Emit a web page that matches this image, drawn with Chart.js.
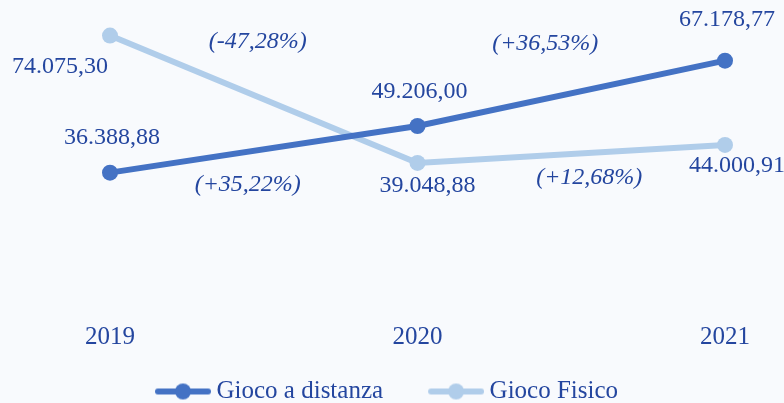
<!DOCTYPE html>
<html>
<head>
<meta charset="utf-8">
<script src="https://cdn.jsdelivr.net/npm/chart.js@4/dist/chart.umd.min.js"></script>
<style>
  html, body { margin: 0; padding: 0; background: #F8FAFD; }
  #wrap { width: 784px; height: 403px; position: relative; }
</style>
</head>
<body>
<div id="wrap"><canvas id="chart"></canvas></div>
<script>
const anni = ['2019', '2020', '2021'];
const giocoADistanza = [36388.88, 49206.00, 67178.77];
const giocoFisico = [74075.30, 39048.88, 44000.91];
const variazioniDistanza = ['(+35,22%)', '(+36,53%)'];
const variazioniFisico = ['(-47,28%)', '(+12,68%)'];

const coloreScuro = '#4472C4';
const coloreChiaro = '#B0CDEA';
const coloreTesto = '#24469F';
const serif = '"Liberation Serif", "DejaVu Serif", serif';

// number like 74.075,30
function formatta(v) {
    const parti = v.toFixed(2).split('.');
    const intero = parti[0].replace(/\B(?=(\d{3})+(?!\d))/g, '.');
    return intero + ',' + parti[1];
}

// legend marker: line with a dot, drawn at the right end of a wider image
// (box is 90 wide, image 104 wide so the line ends 7px past the box)
const LARG_BOX = 90;
function marker(colore) {
    const c = document.createElement('canvas');
    c.width = LARG_BOX + 14;
    c.height = 18;
    const ctx = c.getContext('2d');
    const x0 = c.width - 56;
    ctx.strokeStyle = colore;
    ctx.lineWidth = 6;
    ctx.lineCap = 'round';
    ctx.beginPath();
    ctx.moveTo(x0 + 3, 9);
    ctx.lineTo(x0 + 53, 9);
    ctx.stroke();
    ctx.fillStyle = colore;
    ctx.beginPath();
    ctx.arc(x0 + 28, 9, 8, 0, Math.PI * 2);
    ctx.fill();
    return c;
}

// offsets of the value labels and of the % labels (from segment midpoints)
const offsetValori = [
    [[2, -35], [2, -34], [2, -41]],
    [[-50, 31], [10, 23], [12, 21]]
];
const offsetVariazioni = [
    [[-16, 35], [-26, -50]],
    [[-6, -58], [18, 24]]
];

const etichette = {
    id: 'etichette',
    afterDatasetsDraw(chart) {
        const ctx = chart.ctx;
        const variazioni = [variazioniDistanza, variazioniFisico];
        ctx.save();
        ctx.fillStyle = coloreTesto;
        ctx.textAlign = 'center';
        ctx.textBaseline = 'middle';
        chart.data.datasets.forEach((ds, i) => {
            const punti = chart.getDatasetMeta(i).data;
            ctx.font = '24px ' + serif;
            punti.forEach((p, j) => {
                const o = offsetValori[i][j];
                ctx.fillText(formatta(ds.data[j]), p.x + o[0], p.y + o[1]);
            });
            ctx.font = 'italic 24px ' + serif;
            variazioni[i].forEach((testo, j) => {
                const a = punti[j], b = punti[j + 1];
                const o = offsetVariazioni[i][j];
                ctx.fillText(testo, (a.x + b.x) / 2 + o[0], (a.y + b.y) / 2 + o[1]);
            });
        });
        ctx.restore();
    }
};

function serie(label, dati, colore) {
    return {
        label: label,
        data: dati,
        borderColor: colore,
        backgroundColor: colore,
        borderWidth: 6,
        pointStyle: 'circle',
        pointRadius: 8,
        pointHoverRadius: 8,
        pointBackgroundColor: colore,
        pointBorderWidth: 0,
        clip: false
    };
}

new Chart(document.getElementById('chart'), {
    type: 'line',
    data: {
        labels: anni,
        datasets: [
            serie('Gioco a distanza', giocoADistanza, coloreScuro),
            serie('Gioco Fisico', giocoFisico, coloreChiaro)
        ]
    },
    options: {
        responsive: true,
        maintainAspectRatio: false,
        animation: false,
        layout: { padding: { top: 14, left: 110, right: 59, bottom: -11 } },
        scales: {
            x: {
                offset: false,
                grid: { display: false, drawTicks: false },
                border: { display: false },
                ticks: {
                    color: coloreTesto,
                    font: { family: serif, size: 25 },
                    padding: 17
                },
                afterFit(scale) { scale.height = 70; }
            },
            y: {
                display: false,
                min: 0,
                max: 80000
            }
        },
        plugins: {
            tooltip: { enabled: false },
            legend: {
                position: 'bottom',
                align: 'start',
                labels: {
                    usePointStyle: true,
                    pointStyleWidth: LARG_BOX,
                    padding: 4,
                    color: coloreTesto,
                    font: { family: serif, size: 25 },
                    generateLabels(chart) {
                        return chart.data.datasets.map((ds, i) => ({
                            text: ds.label,
                            pointStyle: marker(ds.borderColor),
                            fillStyle: ds.borderColor,
                            strokeStyle: ds.borderColor,
                            lineWidth: 0,
                            fontColor: coloreTesto,
                            hidden: false,
                            datasetIndex: i
                        }));
                    }
                }
            }
        }
    },
    plugins: [etichette]
});
</script>
</body>
</html>
